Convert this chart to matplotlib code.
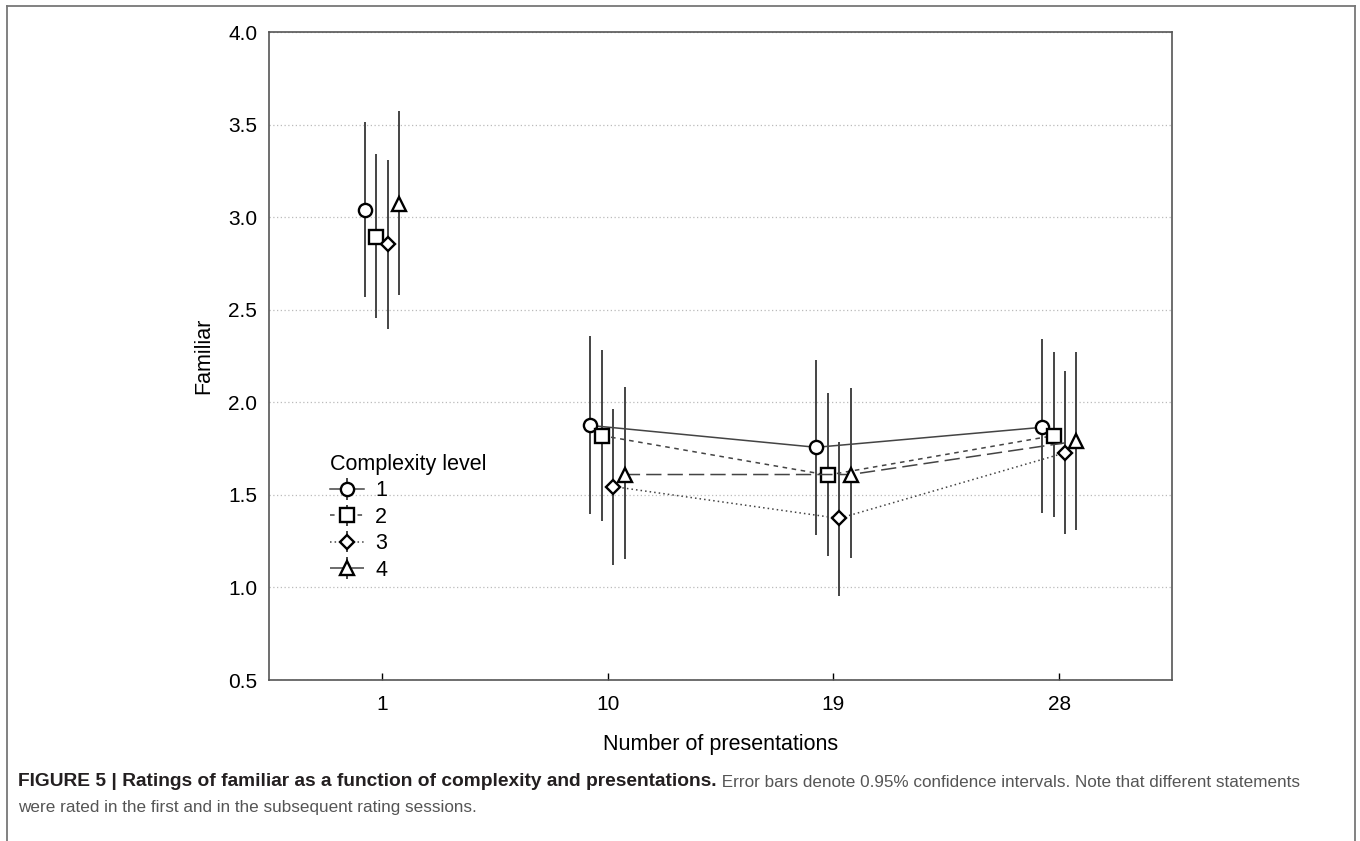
import matplotlib
matplotlib.use("Agg")
import matplotlib.pyplot as plt
from matplotlib.lines import Line2D

plt.rcParams['font.family'] = ['Liberation Sans', 'DejaVu Sans']

presentations = ['1', '10', '19', '28']
levels = ['1', '2', '3', '4']

mean_1 = [3.04, 1.875, 1.757, 1.865]
mean_2 = [2.895, 1.82, 1.607, 1.82]
mean_3 = [2.853, 1.545, 1.373, 1.727]
mean_4 = [3.072, 1.61, 1.61, 1.79]

low_1 = [2.568, 1.397, 1.286, 1.40]
low_2 = [2.458, 1.361, 1.171, 1.38]
low_3 = [2.398, 1.122, 0.953, 1.29]
low_4 = [2.582, 1.153, 1.157, 1.31]

high_1 = [3.516, 2.36, 2.228, 2.34]
high_2 = [3.339, 2.282, 2.051, 2.27]
high_3 = [3.311, 1.964, 1.787, 2.168]
high_4 = [3.574, 2.081, 2.080, 2.27]

means = [mean_1, mean_2, mean_3, mean_4]
lows = [low_1, low_2, low_3, low_4]
highs = [high_1, high_2, high_3, high_4]

offsets = [-0.076, -0.025, 0.025, 0.076]
markers = ['o', 's', 'D', '^']
msizes = [9.5, 9.5, 7, 9.5]
styles = ['-', (0, (3, 3)), (0, (1, 2)), (0, (10, 4))]

fig = plt.figure(figsize=(13.6, 8.41), dpi=100)
ax = fig.add_axes([0.1978, 0.1914, 0.664, 0.7705])

for i in range(4):
    xs = [j + offsets[i] for j in range(len(presentations))]
    m = means[i]
    err = [[m[j] - lows[i][j] for j in range(4)], [highs[i][j] - m[j] for j in range(4)]]
    # first session is not connected to the rest
    ax.errorbar(xs[:1], m[:1], yerr=[err[0][:1], err[1][:1]], fmt=markers[i],
                ms=msizes[i], mfc='white', mec='black', mew=1.7, ecolor='#444444',
                elinewidth=1.4, capsize=0, zorder=3)
    ax.errorbar(xs[1:], m[1:], yerr=[err[0][1:], err[1][1:]], marker=markers[i],
                linestyle=styles[i], color='#444444', lw=1.1, ms=msizes[i],
                mfc='white', mec='black', mew=1.7, ecolor='#444444',
                elinewidth=1.4, capsize=0, label=levels[i], zorder=3)

ax.set_xlim(-0.5, 3.5)
ax.set_ylim(0.5, 4.0)
ax.set_xticks(range(len(presentations)))
ax.set_xticklabels(presentations)
ax.set_yticks([0.5, 1.0, 1.5, 2.0, 2.5, 3.0, 3.5, 4.0])
ax.set_yticklabels(['0.5', '1.0', '1.5', '2.0', '2.5', '3.0', '3.5', '4.0'])
ax.tick_params(axis='x', direction='in', length=5, width=1, labelsize=15, pad=11)
ax.tick_params(axis='y', length=0, labelsize=15, pad=8.5)
ax.yaxis.grid(True, linestyle=(0, (1, 2)), color='#bbbbbb', lw=0.9)
ax.set_axisbelow(True)
for s in ax.spines.values():
    s.set_color('#555555')
    s.set_linewidth(1.2)

ax.set_xlabel('Number of presentations', fontsize=15.5, labelpad=14)
ax.set_ylabel('Familiar', fontsize=15.5, labelpad=10)

leg = ax.legend(title='Complexity level', loc='upper left', bbox_to_anchor=(0.058, 0.362),
                frameon=False, fontsize=15.5, title_fontsize=15.5, handlelength=1.6,
                handletextpad=0.5, labelspacing=0.25, borderaxespad=0)
leg._legend_box.align = 'left'

# outer frame of the figure panel
fc = '#777777'
fig.add_artist(Line2D([7 / 1360, 1355 / 1360], [1 - 6 / 841, 1 - 6 / 841], color=fc, lw=1.3))
fig.add_artist(Line2D([7 / 1360, 7 / 1360], [0, 1 - 6 / 841], color=fc, lw=1.3))
fig.add_artist(Line2D([1355 / 1360, 1355 / 1360], [0, 1 - 6 / 841], color=fc, lw=1.3))

cap_font = ['Liberation Sans', 'DejaVu Sans']
t1 = fig.text(18 / 1360, 1 - 786 / 841, 'FIGURE 5 | Ratings of familiar as a function of complexity and presentations.',
              fontsize=13.8, fontweight='bold', color='#231f20', family=cap_font, va='baseline')
ax.annotate(' Error bars denote 0.95% confidence intervals. Note that different statements',
            xy=(1, 0), xycoords=t1, va='bottom', ha='left', fontsize=12.3, color='#555555',
            family=cap_font, annotation_clip=False)
fig.text(18 / 1360, 1 - 812 / 841, 'were rated in the first and in the subsequent rating sessions.',
         fontsize=12.3, color='#555555', family=cap_font, va='baseline')

fig.savefig('out.png', dpi=100)
